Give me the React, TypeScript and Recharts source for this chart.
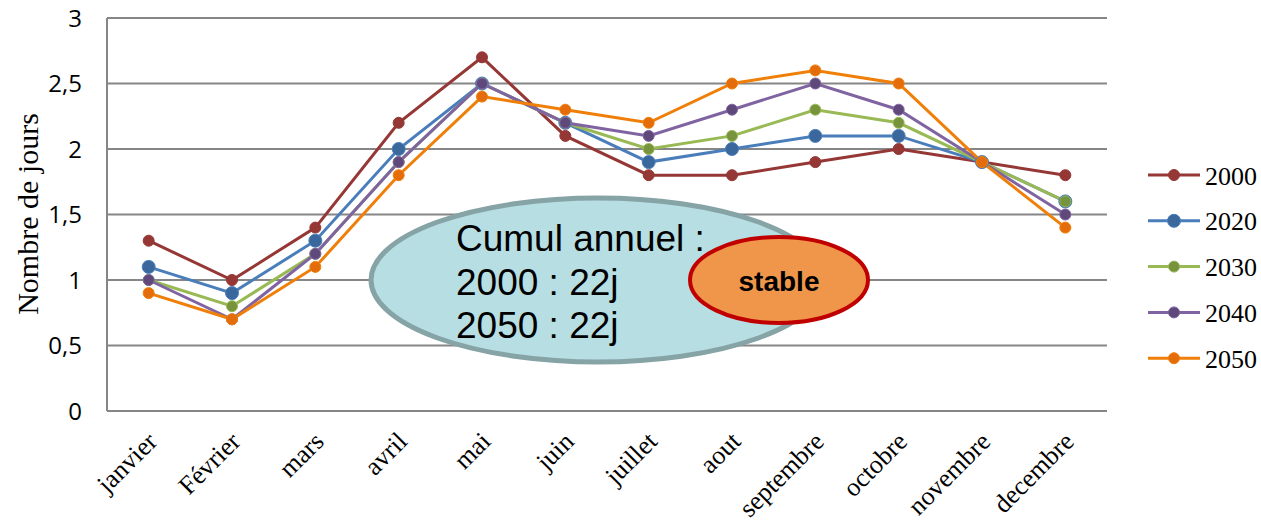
import React from "react";
import {
  LineChart,
  Line,
  XAxis,
  YAxis,
  CartesianGrid,
} from "recharts";

// ==================== DATA ====================

const MONTHS = [
  "janvier",
  "Février",
  "mars",
  "avril",
  "mai",
  "juin",
  "juillet",
  "aout",
  "septembre",
  "octobre",
  "novembre",
  "decembre",
];

const Y2000 = [1.3, 1.0, 1.4, 2.2, 2.7, 2.1, 1.8, 1.8, 1.9, 2.0, 1.9, 1.8];
const Y2020 = [1.1, 0.9, 1.3, 2.0, 2.5, 2.2, 1.9, 2.0, 2.1, 2.1, 1.9, 1.6];
const Y2030 = [1.0, 0.8, 1.2, 1.9, 2.5, 2.2, 2.0, 2.1, 2.3, 2.2, 1.9, 1.6];
const Y2040 = [1.0, 0.7, 1.2, 1.9, 2.5, 2.2, 2.1, 2.3, 2.5, 2.3, 1.9, 1.5];
const Y2050 = [0.9, 0.7, 1.1, 1.8, 2.4, 2.3, 2.2, 2.5, 2.6, 2.5, 1.9, 1.4];

const Y_TICKS = [0, 0.5, 1, 1.5, 2, 2.5, 3];

const SERIES = [
  { key: "2000", values: Y2000, line: "#953735", dot: "#953735", r: 5.5 },
  { key: "2020", values: Y2020, line: "#4a7ebb", dot: "#3a679c", r: 6.5 },
  { key: "2030", values: Y2030, line: "#98b954", dot: "#77933c", r: 5.5 },
  { key: "2040", values: Y2040, line: "#8064a2", dot: "#5f497a", r: 5.5 },
  { key: "2050", values: Y2050, line: "#f07f09", dot: "#e46c0a", r: 5.5 },
];

const rows = MONTHS.map((month, i) => {
  const row: Record<string, string | number> = { month };
  SERIES.forEach((s) => {
    row[s.key] = s.values[i];
  });
  return row;
});

const GRID = "#868686";
const SERIF = "'Liberation Serif', 'Times New Roman', serif";
const SANS = "'Liberation Sans', Arial, sans-serif";

// ==================== TICKS ====================

const MonthTick = ({ x, payload }: any) => {
  const tx = x + 10;
  const ty = 443;
  return (
    <text
      x={tx}
      y={ty}
      transform={`rotate(-45 ${tx} ${ty})`}
      textAnchor="end"
      fontFamily={SERIF}
      fontSize={26}
      fill="#000"
    >
      {payload.value}
    </text>
  );
};

const AxisTitle = () => (
  <text
    x={27}
    y={214}
    transform="rotate(-90 27 214)"
    textAnchor="middle"
    dominantBaseline="central"
    fontFamily={SERIF}
    fontSize={30}
    fill="#000"
  >
    Nombre de jours
  </text>
);

// ==================== LEGEND ====================

const SideLegend = () => (
  <svg
    width={140}
    height={260}
    style={{ position: "absolute", left: 1130, top: 150 }}
  >
    {SERIES.map((s, i) => {
      const cy = 25 + i * 45.8;
      return (
        <g key={s.key}>
          <line x1={18} x2={70} y1={cy} y2={cy} stroke={s.line} strokeWidth={3} />
          <circle cx={44} cy={cy} r={s.r} fill={s.dot} stroke={s.line} strokeWidth={1} />
          <text
            x={75}
            y={cy + 1}
            dominantBaseline="central"
            fontFamily={SERIF}
            fontSize={26}
            fill="#000"
          >
            {s.key}
          </text>
        </g>
      );
    })}
  </svg>
);

// ==================== CALLOUTS ====================

const Callouts = () => (
  <svg
    width={1261}
    height={524}
    style={{ position: "absolute", left: 0, top: 0, pointerEvents: "none" }}
  >
    <ellipse
      cx={598}
      cy={280}
      rx={227}
      ry={82}
      fill="#b7dee2"
      stroke="#86a3a6"
      strokeWidth={5}
    />
    <g fontFamily={SANS} fontSize={37} fill="#000">
      <text x={456} y={251}>Cumul annuel :</text>
      <text x={456} y={295}>2000 : 22j</text>
      <text x={456} y={338}>2050 : 22j</text>
    </g>
    <ellipse
      cx={779}
      cy={280}
      rx={89}
      ry={43}
      fill="#f0964b"
      stroke="#c00000"
      strokeWidth={4}
    />
    <text
      x={779}
      y={281}
      textAnchor="middle"
      dominantBaseline="central"
      fontFamily={SANS}
      fontWeight="bold"
      fontSize={28}
      fill="#000"
    >
      stable
    </text>
  </svg>
);

// ==================== CHART ====================

export default function App() {
  return (
    <div
      style={{
        position: "absolute",
        left: 0,
        top: 0,
        width: 1261,
        height: 524,
        background: "#fff",
      }}
    >
      <LineChart
        width={1261}
        height={524}
        data={rows}
        margin={{ top: 18, right: 154, bottom: 0, left: 0 }}
      >
        <CartesianGrid vertical={false} stroke={GRID} strokeWidth={2} />
        <XAxis
          dataKey="month"
          scale="band"
          interval={0}
          tickLine={false}
          axisLine={{ stroke: GRID, strokeWidth: 2 }}
          tick={<MonthTick />}
          height={113}
        />
        <YAxis
          domain={[0, 3]}
          ticks={Y_TICKS}
          width={107}
          tickLine={false}
          tickMargin={19}
          axisLine={{ stroke: GRID, strokeWidth: 2 }}
          tick={{ fontFamily: "'Open Sans', sans-serif", fontSize: 24, fill: "#000" }}
          tickFormatter={(v: number) => String(v).replace(".", ",")}
          label={<AxisTitle />}
        />
        {SERIES.map((s) => (
          <Line
            key={s.key}
            dataKey={s.key}
            type="linear"
            stroke={s.line}
            strokeWidth={3}
            dot={{ r: s.r, fill: s.dot, stroke: s.line, strokeWidth: 1 }}
            activeDot={false}
            isAnimationActive={false}
          />
        ))}
      </LineChart>
      <Callouts />
      <SideLegend />
    </div>
  );
}
